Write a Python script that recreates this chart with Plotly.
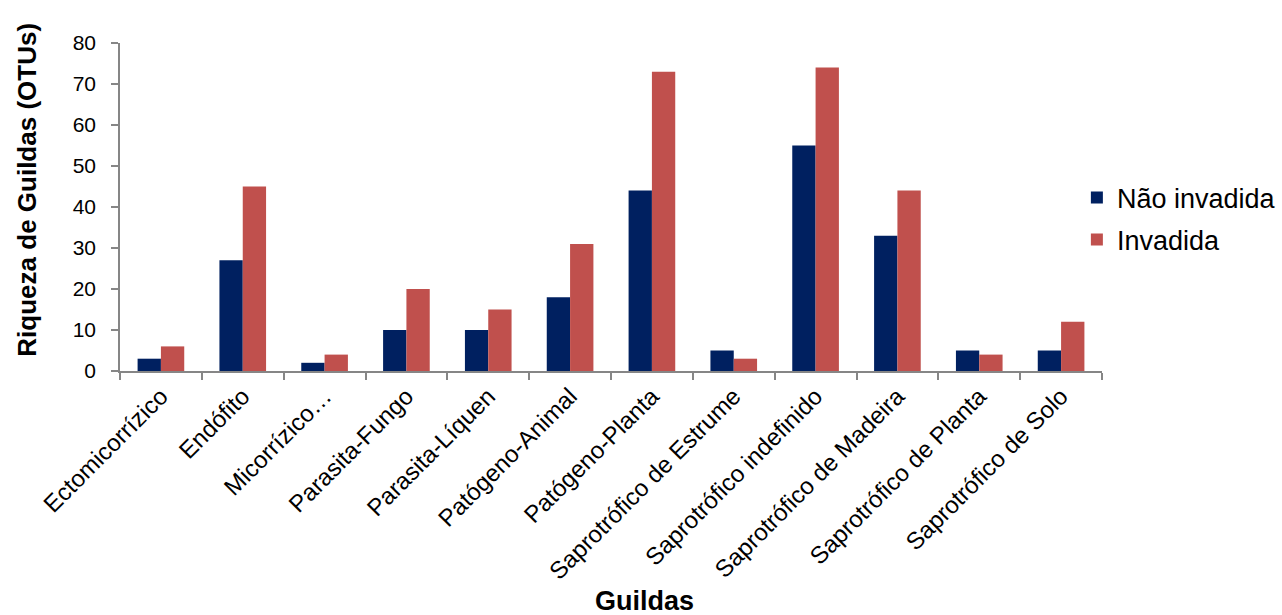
import plotly.graph_objects as go

# Guild categories and OTU richness per site condition
guildas = [
    "Ectomicorrízico", "Endófito", "Micorrízico…", "Parasita-Fungo",
    "Parasita-Líquen", "Patógeno-Animal", "Patógeno-Planta",
    "Saprotrófico de Estrume", "Saprotrófico indefinido",
    "Saprotrófico de Madeira", "Saprotrófico de Planta", "Saprotrófico de Solo",
]
nao_invadida = [3, 27, 2, 10, 10, 18, 44, 5, 55, 33, 5, 5]
invadida = [6, 45, 4, 20, 15, 31, 73, 3, 74, 44, 4, 12]
y_ticks = [0, 10, 20, 30, 40, 50, 60, 70, 80]

FONT = "Liberation Sans, Arial, sans-serif"
AXIS_GRAY = "#868686"

fig = go.Figure()
fig.add_trace(go.Bar(
    x=guildas, y=nao_invadida, name="Não invadida",
    marker=dict(color="#002060", line=dict(width=0)),
    legendgroup="a",
))
fig.add_trace(go.Bar(
    x=guildas, y=invadida, name="Invadida",
    marker=dict(color="#C0504D", line=dict(width=0)),
    legendgroup="b",
))

fig.update_layout(
    width=1282, height=615,
    margin=dict(l=120, r=180, t=43, b=244, autoexpand=False),
    paper_bgcolor="white", plot_bgcolor="white",
    barmode="group", bargap=0.43, bargroupgap=0,
    font=dict(family=FONT, color="#000000", size=20),
    showlegend=True,
    legend=dict(
        xref="container", yref="container",
        x=0.840, y=0.718, xanchor="left", yanchor="top",
        font=dict(size=27, family=FONT),
        traceorder="grouped", tracegroupgap=4,
        bgcolor="rgba(0,0,0,0)",
    ),
    xaxis=dict(
        showline=True, linecolor=AXIS_GRAY, linewidth=1.5,
        ticks="outside", tickson="boundaries", ticklen=7,
        tickcolor=AXIS_GRAY, tickwidth=1.5,
        tickangle=-45, tickfont=dict(size=24, family=FONT),
        showgrid=False, zeroline=False, automargin=False,
    ),
    yaxis=dict(
        range=[0, 80], tickvals=y_ticks,
        showline=True, linecolor=AXIS_GRAY, linewidth=1.5,
        ticks="outside", ticklen=7, tickcolor=AXIS_GRAY, tickwidth=1.5,
        tickfont=dict(size=21, family=FONT), ticklabelstandoff=11,
        showgrid=False, zeroline=False, automargin=False,
    ),
    annotations=[
        dict(
            text="<b>Riqueza de Guildas (OTUs)</b>",
            xref="paper", yref="paper", x=-0.095, y=0.552,
            xanchor="center", yanchor="middle", textangle=-90,
            showarrow=False, font=dict(size=26, family=FONT),
        ),
        dict(
            text="<b>Guildas</b>",
            xref="paper", yref="paper", x=0.534, y=-0.70,
            xanchor="center", yanchor="middle",
            showarrow=False, font=dict(size=27, family=FONT),
        ),
    ],
)

fig.write_html("out.html")
